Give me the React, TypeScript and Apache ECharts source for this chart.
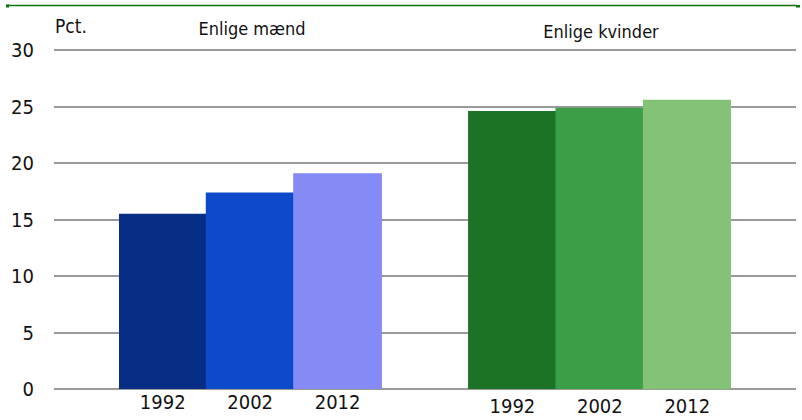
import React, { useEffect, useRef } from "react";
import * as echarts from "echarts";

const years = ["1992", "2002", "2012"];
const menValues = [15.5, 17.4, 19.1];
const womenValues = [24.6, 24.9, 25.6];
const menColors = ["#072E84", "#0C4ACB", "#858AF4"];
const womenColors = ["#1C7326", "#3A9F47", "#84C276"];
const yTicks = [0, 5, 10, 15, 20, 25, 30];
const groupTitles = ["Enlige mænd", "Enlige kvinder"];
const unitLabel = "Pct.";

const FONT = "'Liberation Sans Narrow', 'DejaVu Sans Condensed', 'Roboto', sans-serif";
const TEXT = "#111111";

export default function App() {
  const ref = useRef<HTMLDivElement>(null);
  useEffect(() => {
    if (!ref.current) return;
    const chart = echarts.init(ref.current, undefined, { renderer: "svg" });
    const categories = [...years, "", ...years];
    const item = (v: number, c: string) => ({ value: v, itemStyle: { color: c } });
    const data = [
      ...menValues.map((v, i) => item(v, menColors[i])),
      { value: null as any, itemStyle: { color: "transparent" } },
      ...womenValues.map((v, i) => item(v, womenColors[i])),
    ];
    chart.setOption({
      animation: false,
      backgroundColor: "#ffffff",
      textStyle: { fontFamily: FONT },
      grid: [
        { left: 54, right: 6, top: 50, bottom: 31 },
        { left: 119, right: 71, top: 50, bottom: 31 },
      ],
      xAxis: [
        { type: "value", gridIndex: 0, show: false, min: 0, max: 1 },
        {
          type: "category",
          gridIndex: 1,
          data: categories,
          axisLine: { show: false },
          axisTick: { show: false },
          axisLabel: {
            margin: 3,
            fontSize: 20,
            color: TEXT,
            fontFamily: FONT,
            interval: 0,
            formatter: (v: string, i: number) => (i > 3 ? `{b|${v}}` : `{a|${v}}`),
            rich: {
              a: { fontSize: 20, color: TEXT, fontFamily: FONT },
              b: { fontSize: 20, color: TEXT, fontFamily: FONT, padding: [4, 0, 0, 0] },
            },
          },
        },
      ],
      yAxis: [
        {
          type: "value",
          gridIndex: 0,
          min: 0,
          max: 30,
          interval: 5,
          axisLine: { show: false },
          axisTick: { show: false },
          axisLabel: {
            margin: 20,
            fontSize: 20,
            color: TEXT,
            fontFamily: FONT,
            formatter: (v: number) => (yTicks.includes(v) ? String(v) : ""),
          },
          splitLine: { lineStyle: { color: "#9a9a9a", width: 2 } },
        },
        {
          type: "value",
          gridIndex: 1,
          min: 0,
          max: 30,
          interval: 5,
          show: false,
          splitLine: { show: false },
        },
      ],
      series: [
        {
          type: "bar",
          xAxisIndex: 1,
          yAxisIndex: 1,
          data,
          barWidth: "101.5%",
          barGap: "0%",
        },
      ],
      graphic: [
        {
          type: "line",
          shape: { x1: 6, y1: 5.5, x2: 797, y2: 5.5 },
          style: { stroke: "#0b750b", lineWidth: 1.5 },
        },
        { type: "rect", shape: { x: 6, y: 4.5, width: 3, height: 3 }, style: { fill: "#0b750b" } },
        { type: "rect", shape: { x: 796, y: 5, width: 4, height: 2.5 }, style: { fill: "#0b750b" } },
        {
          type: "text",
          x: 55,
          y: 26,
          style: { text: unitLabel, fontSize: 19, fontFamily: FONT, fill: TEXT, verticalAlign: "middle", align: "left" },
        },
        {
          type: "text",
          x: 252,
          y: 28,
          style: { text: groupTitles[0], fontSize: 18, fontFamily: FONT, fill: TEXT, verticalAlign: "middle", align: "center" },
        },
        {
          type: "text",
          x: 601,
          y: 31,
          style: { text: groupTitles[1], fontSize: 18, fontFamily: FONT, fill: TEXT, verticalAlign: "middle", align: "center" },
        },
      ],
    });
    return () => chart.dispose();
  }, []);
  return (
    <div
      ref={ref}
      style={{ position: "fixed", left: 0, top: 0, width: 802, height: 420, background: "#fff" }}
    />
  );
}
